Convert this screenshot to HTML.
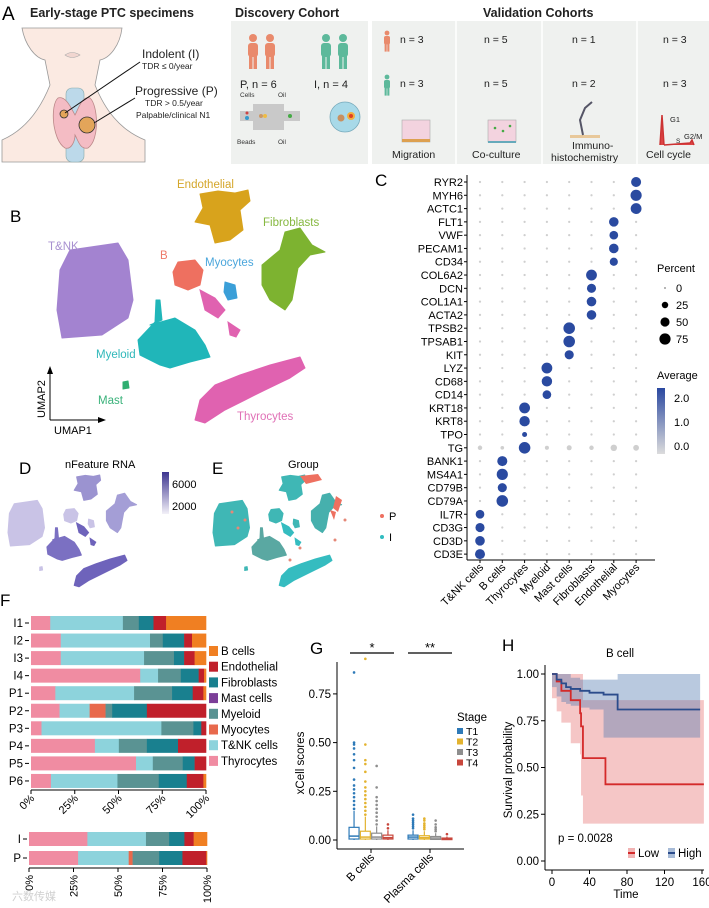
<!DOCTYPE html>
<html><head><meta charset="utf-8"><style>
html,body{margin:0;padding:0;background:#fff;}
svg{display:block;font-family:"Liberation Sans",sans-serif;}
</style></head><body>
<svg id="fig" width="709" height="908" viewBox="0 0 709 908" xmlns="http://www.w3.org/2000/svg">
<!-- PANEL A -->
<g>
<text x="2" y="20" font-size="19">A</text>
<text x="30" y="17" font-size="12.5" font-weight="bold" fill="#222">Early-stage PTC specimens</text>
<path d="M22,28 C25,45 35,58 45,60 L50,85 C40,110 25,130 2,140 L2,162 L145,162 L145,140 C120,130 105,110 95,85 L100,60 C110,58 120,45 122,28 Z" fill="#fbeae2" stroke="#999" stroke-width="0.8"/>
<path d="M65,55 Q72,50 80,55 Q72,60 65,55 Z" fill="#f1d6d0" stroke="#aaa" stroke-width="0.6"/>
<rect x="66" y="88" width="18" height="74" rx="6" fill="#bcd9ea" stroke="#8aa" stroke-width="0.6"/>
<path d="M58,98 C50,105 52,140 65,148 C72,150 75,140 75,135 C78,140 80,150 88,148 C100,140 98,105 90,98 C82,95 78,110 75,115 C72,110 66,95 58,98 Z" fill="#f4bcc4" stroke="#b88" stroke-width="0.8"/>
<circle cx="64" cy="114" r="4" fill="#e3a55a" stroke="#333" stroke-width="0.8"/>
<circle cx="87" cy="125" r="8" fill="#e3a55a" stroke="#333" stroke-width="0.8"/>
<line x1="65" y1="113" x2="140" y2="62" stroke="#111" stroke-width="1"/>
<line x1="94" y1="123" x2="135" y2="98" stroke="#111" stroke-width="1"/>
<text x="142" y="58" font-size="12" fill="#222">Indolent (I)</text>
<text x="142" y="69" font-size="8.5" fill="#222">TDR ≤ 0/year</text>
<text x="135" y="95" font-size="12" fill="#222">Progressive (P)</text>
<text x="145" y="106" font-size="8.5" fill="#222">TDR &gt; 0.5/year</text>
<text x="136" y="118" font-size="8.5" fill="#222">Palpable/clinical N1</text>
<text x="235" y="17" font-size="12.5" font-weight="bold" fill="#222">Discovery Cohort</text>
<rect x="231" y="21" width="137" height="143" fill="#eff1ef"/>
<text x="483" y="17" font-size="12.5" font-weight="bold" fill="#222">Validation Cohorts</text>
<rect x="372" y="21" width="337" height="143" fill="#eff1ef"/>
<line x1="456" y1="21" x2="456" y2="164" stroke="#fff" stroke-width="1.5"/>
<line x1="542" y1="21" x2="542" y2="164" stroke="#fff" stroke-width="1.5"/>
<line x1="637" y1="21" x2="637" y2="164" stroke="#fff" stroke-width="1.5"/>
<g id="people"></g>
<text x="240" y="88" font-size="11" fill="#222">P, n = 6</text>
<text x="314" y="88" font-size="11" fill="#222">I, n = 4</text>
<path d="M240,111 H253 V104 H284 V111 H300 V121 H284 V130 H253 V121 H240 Z" fill="#c9c9c9"/>
<circle cx="345" cy="117" r="15" fill="#a8d9e8" stroke="#7ab" stroke-width="0.8"/>
<circle cx="341" cy="118" r="3.5" fill="#c89060"/><circle cx="351" cy="116" r="4" fill="#f0b040"/><circle cx="351" cy="116" r="2" fill="#e04020"/>
<text x="240" y="97" font-size="6.5" fill="#333">Cells</text><text x="278" y="97" font-size="6.5" fill="#333">Oil</text>
<text x="237" y="144" font-size="6.5" fill="#333">Beads</text><text x="278" y="144" font-size="6.5" fill="#333">Oil</text>
<circle cx="247" cy="113" r="1.5" fill="#c44"/><circle cx="247" cy="118" r="2" fill="#39c"/><circle cx="261" cy="116" r="2" fill="#c96"/><circle cx="265" cy="116" r="2" fill="#eb4"/><circle cx="290" cy="116" r="2" fill="#4a4"/>
<g id="valtext" font-size="10.5" fill="#222"></g>
<rect x="402" y="120" width="28" height="22" fill="#f3d3df" stroke="#aaa" stroke-width="0.6"/>
<rect x="402" y="139" width="28" height="3" fill="#dda050"/>
<rect x="488" y="120" width="28" height="22" fill="#f3d3df" stroke="#aaa" stroke-width="0.6"/>
<rect x="488" y="141" width="28" height="2" fill="#6ab"/>
<circle cx="495" cy="128" r="1.3" fill="#4a4"/><circle cx="503" cy="131" r="1.3" fill="#4a4"/><circle cx="510" cy="126" r="1.3" fill="#4a4"/>
<rect x="570" y="135" width="30" height="3" fill="#e8c89a"/>
<path d="M583,135 L580,120 L585,108 L592,102" stroke="#556" stroke-width="2" fill="none"/>
<path d="M660,145 L662,115 L664,145 M664,145 L690,143 L692,140 L694,145" stroke="#c33" stroke-width="1.5" fill="#d44"/>
<text x="670" y="122" font-size="7.5" fill="#222">G1</text><text x="676" y="143" font-size="6.5" fill="#222">S</text><text x="684" y="139" font-size="7.5" fill="#222">G2/M</text>
<text x="392" y="158" font-size="10.5" fill="#222">Migration</text>
<text x="472" y="158" font-size="10.5" fill="#222">Co-culture</text>
<text x="572" y="149" font-size="10.5" fill="#222">Immuno-</text>
<text x="551" y="161" font-size="10.5" fill="#222">histochemistry</text>
<text x="646" y="158" font-size="10.5" fill="#222">Cell cycle</text>
</g>
<!-- PANEL B/D/E -->
<text x="10" y="222" font-size="17">B</text>
<g id="umapB"></g>
<g>
<path d="M50,420 V372 M50,420 H100" stroke="#000" stroke-width="1"/>
<path d="M47,374 L50,366 L53,374 Z M98,417 L106,420 L98,423 Z" fill="#000"/>
<text x="54" y="434" font-size="11">UMAP1</text>
<text x="0" y="0" font-size="11" transform="translate(45,418) rotate(-90)">UMAP2</text>
</g>
<text x="19" y="474" font-size="17">D</text>
<text x="65" y="468" font-size="11">nFeature RNA</text>
<g id="umapD"></g>
<defs><linearGradient id="gD" x1="0" y1="1" x2="0" y2="0"><stop offset="0" stop-color="#f2f0f8"/><stop offset="1" stop-color="#3d3590"/></linearGradient>
<linearGradient id="gC" x1="0" y1="1" x2="0" y2="0"><stop offset="0" stop-color="#dcdcdc"/><stop offset="1" stop-color="#2a48a0"/></linearGradient></defs>
<rect x="162" y="472" width="7" height="42" fill="url(#gD)"/>
<text x="172" y="488" font-size="11">6000</text><text x="172" y="510" font-size="11">2000</text>
<text x="212" y="474" font-size="17">E</text>
<text x="288" y="468" font-size="11">Group</text>
<g id="umapE"></g>
<g>
<circle cx="382" cy="516" r="2" fill="#ee7060"/><text x="389" y="520" font-size="11">P</text>
<circle cx="382" cy="537" r="2" fill="#30bcc0"/><text x="389" y="541" font-size="11">I</text>
</g>
<!-- PANEL C -->
<text x="375" y="186" font-size="17">C</text>
<g id="dotplot"></g>
<!-- PANEL F -->
<text x="0" y="606" font-size="17">F</text>
<g id="barF"></g>
<!-- PANEL G -->
<text x="310" y="654" font-size="17">G</text>
<g id="boxG"></g>
<!-- PANEL H -->
<text x="502" y="651" font-size="17">H</text>
<g id="kmH"></g>
<text x="12" y="900" font-size="11" fill="#d0d0d0">六数传媒</text>
</svg>
<script>
const NS="http://www.w3.org/2000/svg";
function mk(parent,tag,attrs,text){const e=document.createElementNS(NS,tag);for(const k in attrs)e.setAttribute(k,attrs[k]);if(text!==undefined)e.textContent=text;parent.appendChild(e);return e;}

// ---- Panel A people / validation text
const people=document.getElementById('people');
function person(x,y,c,s){
 const g=mk(people,'g',{fill:c});
 
 
 mk(g,'circle',{cx:x,cy:y,r:4*s});
 mk(g,'rect',{x:x-5*s,y:y+5*s,width:10*s,height:14*s,rx:3*s});
 mk(g,'rect',{x:x-4*s,y:y+17*s,width:3.5*s,height:14*s});
 mk(g,'rect',{x:x+0.5*s,y:y+17*s,width:3.5*s,height:14*s});
}
person(253,38,'#e98a6c',1);person(270,38,'#e98a6c',1);person(326,38,'#5db99b',1);person(343,38,'#5db99b',1);
person(387,33,'#e98a6c',0.6);person(387,77,'#5db99b',0.6);
const valRow1=['n = 3','n = 5','n = 1','n = 3'],valRow2=['n = 3','n = 5','n = 2','n = 3'];
const valX=[400,484,572,663];
const vt=document.getElementById('valtext');
valRow1.forEach((t,i)=>mk(vt,'text',{x:valX[i],y:43},t));
valRow2.forEach((t,i)=>mk(vt,'text',{x:valX[i],y:87},t));

// ---- UMAP blobs
const clusters=['T&NK','Endothelial','Fibroblasts','B','Myocytes','Myeloid','Mast','Thyrocytes'];
const clusterColors=['#a383d0','#d8a31c','#7db330','#ee7060','#3b9fd8','#20b6b9','#2fae70','#e062b0'];
const labelColors=['#a890d0','#d4a62a','#86b840','#ee7a6a','#4aa6dc','#30b8ba','#3ab27a','#e070b6'];
const blobs=[
 [[70,250],[118,243],[128,260],[133,300],[128,318],[102,335],[62,338],[57,310],[60,270]],
 [[200,194],[218,191],[235,193],[248,190],[250,201],[240,210],[243,230],[230,240],[215,243],[210,225],[195,222],[203,208]],
 [[285,232],[300,228],[312,245],[325,252],[310,255],[298,268],[292,300],[285,310],[270,300],[262,285],[262,265],[280,250]],
 [[178,262],[195,260],[203,270],[200,285],[188,290],[175,285],[173,272]],
 [[225,282],[235,285],[237,298],[228,300],[224,292]],
 [[150,325],[175,318],[195,330],[205,345],[210,357],[190,362],[170,368],[160,365],[140,355],[138,340],[155,322],[156,300],[160,300],[162,320]],
 [[123,382],[128,381],[129,388],[123,389]],
 [[195,420],[200,400],[215,385],[240,375],[270,365],[300,357],[305,368],[290,378],[265,390],[245,400],[225,410],[205,423]]
];
const extraPink=[[[200,290],[215,298],[225,310],[218,318],[205,310]],[[228,322],[240,330],[236,337],[230,335]]];
const labelPos=[[48,250,'T&NK'],[177,188,'Endothelial'],[263,226,'Fibroblasts'],[160,259,'B'],[205,266,'Myocytes'],[96,358,'Myeloid'],[98,404,'Mast'],[237,420,'Thyrocytes']];
function drawUmap(gid,ox,oy,sc,fillFn,labels){
 const g=document.getElementById(gid);
 const T=p=>[(ox+(p[0]-57)*sc).toFixed(1),(oy+(p[1]-188)*sc).toFixed(1)].join(',');
 blobs.forEach((b,i)=>{
  const p=mk(g,'polygon',{points:b.map(T).join(' '),fill:fillFn(i),'stroke':fillFn(i),'stroke-width':1,'stroke-linejoin':'round'});
  
  
 });
 extraPink.forEach(b=>mk(g,'polygon',{points:b.map(T).join(' '),fill:fillFn(7),stroke:fillFn(7),'stroke-width':1}));
 if(labels){labelPos.forEach((l,i)=>{const t=mk(g,'text',{x:l[0],y:l[1],'font-size':11.5,fill:labelColors[i]},l[2]);
  });}
}
const dShade=['#c9c3e6','#9b93d0','#a49ed6','#c9c3e6','#c9c3e6','#7b70c2','#c9c3e6','#6e63bb'];
drawUmap('umapB',57,188,1,i=>clusterColors[i],true);
drawUmap('umapD',8,474,0.48,i=>dShade[i],false);
const eShade=['#3fb7b5','#3fb7b5','#46b0ad','#3fb7b5','#3fb7b5','#5aa8a2','#3fb7b5','#35bcc0'];
drawUmap('umapE',213,474,0.48,i=>eShade[i],false);
(function(){const g=document.getElementById('umapE');
 mk(g,'polygon',{points:'300,476 318,474 322,480 306,484',fill:'#ee7060'});
 mk(g,'polygon',{points:'336,496 342,500 338,512 333,508',fill:'#ee7060'});
 mk(g,'polygon',{points:'330,510 336,512 334,520',fill:'#ee7060'});
 const pts=[[232,512],[245,520],[238,528],[300,548],[290,560],[345,520],[335,540]];
 pts.forEach(p=>mk(g,'circle',{cx:p[0],cy:p[1],r:1.5,fill:'#e58878'}));})();

// ---- Panel C dot plot
const genes=['RYR2','MYH6','ACTC1','FLT1','VWF','PECAM1','CD34','COL6A2','DCN','COL1A1','ACTA2','TPSB2','TPSAB1','KIT','LYZ','CD68','CD14','KRT18','KRT8','TPO','TG','BANK1','MS4A1','CD79B','CD79A','IL7R','CD3G','CD3D','CD3E'];
const cellTypes=['T&NK cells','B cells','Thyrocytes','Myeloid','Mast cells','Fibroblasts','Endothelial','Myocytes'];
const markerCol=[7,7,7,6,6,6,6,5,5,5,5,4,4,4,3,3,3,2,2,2,2,1,1,1,1,0,0,0,0];
const markerPct=[60,75,70,55,45,55,40,70,50,55,55,80,80,50,70,65,45,70,65,15,80,60,75,50,80,45,50,55,60];
const tgBackground=[12,8,0,10,15,12,25,20];
(function(){
 const g=document.getElementById('dotplot');
 const x0=480,dx=22.3,y0=182,dy=13.29;
 const xs=c=>x0+c*dx, ys=r=>y0+r*dy, rad=p=>Math.sqrt(p/75)*5.6;
 mk(g,'line',{x1:467,y1:175,x2:467,y2:560,stroke:'#000','stroke-width':1});
 mk(g,'line',{x1:467,y1:560,x2:655,y2:560,stroke:'#000','stroke-width':1});
 genes.forEach((gn,r)=>{
  const t=mk(g,'text',{x:463,y:ys(r)+4,'font-size':11,'text-anchor':'end'},gn);
  
  mk(g,'line',{x1:464,y1:ys(r),x2:467,y2:ys(r),stroke:'#000'});
  cellTypes.forEach((ct,c)=>{
   let p=3,col='#cfcfcf';
   if(markerCol[r]===c){p=markerPct[r];col='#2a4aa0';}
   else if(gn==='TG'){p=tgBackground[c];}
   const d=mk(g,'circle',{cx:xs(c),cy:ys(r),r:rad(p).toFixed(2),fill:col});
   
  });
 });
 cellTypes.forEach((ct,c)=>{
  mk(g,'line',{x1:xs(c),y1:560,x2:xs(c),y2:563,stroke:'#000'});
  const t=mk(g,'text',{x:0,y:0,'font-size':11,'text-anchor':'end',transform:`translate(${xs(c)+4},${568}) rotate(-45)`},ct);
  
 });
 mk(g,'text',{x:657,y:272,'font-size':11},'Percent');
 const legP=[0,25,50,75];
 legP.forEach((p,i)=>{mk(g,'circle',{cx:665,cy:288+i*17,r:Math.max(0.6,rad(p)),fill:'#000'});mk(g,'text',{x:676,y:292+i*17,'font-size':11},String(p));});
 mk(g,'text',{x:657,y:379,'font-size':11},'Average');
 mk(g,'rect',{x:657,y:388,width:8,height:66,fill:'url(#gC)'});
 [['2.0',398],['1.0',422],['0.0',446]].forEach(a=>mk(g,'text',{x:674,y:a[1]+4,'font-size':11},a[0]));
})();

// ---- Panel F stacked bars
const sampleNames=['I1','I2','I3','I4','P1','P2','P3','P4','P5','P6'];
const legendNames=['B cells','Endothelial','Fibroblasts','Mast cells','Myeloid','Myocytes','T&NK cells','Thyrocytes'];
const legendColors=['#f07f22','#c0202b','#19808f','#7c3f98','#5a9393','#e8694c','#8dd3dc','#f08ca2'];
const thyro=[11,17,17,62.4,13.9,16.3,6,36.5,60,11.4];
const tnk=[41.5,51,47.6,10.2,45,17.2,68.5,13.7,9.6,38];
const myocyte=[0,0,0,0,0,9.1,0,0,0,0];
const myeloid=[9.1,7.3,17.1,13,21.7,3.8,18.3,16,17.1,23.6];
const mast=[0,0,0,0,0,0,0,0,0,0];
const fibro=[8.4,12.2,5.8,10.2,11.8,19.8,4.5,17.8,6.8,16];
const endo=[7.2,4.5,6,3.1,6.1,33.8,2.7,16,6.5,9.5];
const bcell=[22.8,8,6.5,1.1,1.5,0,0,0,0,1.5];
const groupNames=['I','P'];
const gThyro=[32.8,27.6],gTnk=[32.9,28.4],gMyo=[0,2.2],gMyel=[13,14.9],gMast=[0,0],gFib=[8.6,13.1],gEndo=[5.2,13.4],gB=[7.5,0.4];
(function(){
 const g=document.getElementById('barF');
 const stackCols=['#f08ca2','#8dd3dc','#e8694c','#5a9393','#7c3f98','#19808f','#c0202b','#f07f22'];
 function drawBars(names,series,x0,w,y0,dy,bh,axisY){
  names.forEach((n,i)=>{
   const cy=y0+i*dy;
   mk(g,'text',{x:x0-8,y:cy+4,'font-size':11.5,'text-anchor':'end'},n);
   mk(g,'line',{x1:x0-6,y1:cy,x2:x0-2,y2:cy,stroke:'#000'});
   let acc=0;
   series.forEach((s,k)=>{
    const v=s[i]; if(v<=0)return;
    const r=mk(g,'rect',{x:(x0+acc/100*w).toFixed(2),y:cy-bh/2,width:(v/100*w+0.3).toFixed(2),height:bh,fill:stackCols[k]});
    
    acc+=v;
   });
  });
  mk(g,'line',{x1:x0,y1:axisY,x2:x0+w,y2:axisY,stroke:'#000'});
 }
 drawBars(sampleNames,[thyro,tnk,myocyte,myeloid,mast,fibro,endo,bcell],31,175,623,17.55,14,790);
 drawBars(groupNames,[gThyro,gTnk,gMyo,gMyel,gMast,gFib,gEndo,gB],29,178,839,19,14,868);
 const ticks=['0%','25%','50%','75%','100%'];
 ticks.forEach((t,i)=>{
  const x=31+i*175/4;
  mk(g,'line',{x1:x,y1:790,x2:x,y2:794,stroke:'#000'});
  mk(g,'text',{x:0,y:0,'font-size':11,'text-anchor':'end',transform:`translate(${x+4},${799}) rotate(-45)`},t);
  const x2=29+i*178/4;
  mk(g,'line',{x1:x2,y1:868,x2:x2,y2:872,stroke:'#000'});
  mk(g,'text',{x:0,y:0,'font-size':11,'text-anchor':'end',transform:`translate(${x2+4},${875}) rotate(-90)`},t);
 });
 legendNames.forEach((n,i)=>{
  const y=651+i*15.7;
  const r=mk(g,'rect',{x:209,y:y-5,width:9,height:10,fill:legendColors[i]});
  
  mk(g,'text',{x:221,y:y+4,'font-size':11.5},n);
 });
})();

// ---- Panel G box plot
const gCats=['B cells','Plasma cells'];
const stages=['T1','T2','T3','T4'];
const q1=[[0.005,0.005,0.005,0.005],[0.005,0.005,0.003,0.002]];
const med=[[0.02,0.015,0.015,0.012],[0.015,0.012,0.01,0.006]];
const q3=[[0.065,0.045,0.035,0.025],[0.025,0.022,0.018,0.01]];
const whiskHi=[[0.15,0.12,0.07,0.05],[0.05,0.045,0.035,0.018]];
const outliers=[
 [[0.16,0.18,0.2,0.22,0.24,0.26,0.28,0.31,0.37,0.41,0.44,0.47,0.49,0.5,0.86],[0.13,0.15,0.17,0.19,0.21,0.23,0.25,0.27,0.3,0.35,0.39,0.41,0.49,0.93],[0.08,0.1,0.12,0.14,0.16,0.18,0.2,0.22,0.27,0.38],[0.06,0.08]],
 [[0.06,0.07,0.08,0.09,0.1,0.11,0.13],[0.055,0.065,0.075,0.085,0.1,0.11],[0.045,0.055,0.065,0.08,0.1],[0.03]]];
const yTicksG=[0,0.25,0.5,0.75];
(function(){
 const g=document.getElementById('boxG');
 const cols=['#2e7ab8','#e3b32f','#8e8e8e','#c8463c'];
 const Y=v=>840-v/0.25*48.7;
 const catX=[371,430];
 const X=(c,s)=>catX[c]+(s-1.5)*11.3;
 mk(g,'line',{x1:337,y1:662,x2:337,y2:849,stroke:'#000'});
 mk(g,'line',{x1:337,y1:849,x2:464,y2:849,stroke:'#000'});
 yTicksG.forEach(t=>{mk(g,'line',{x1:333,y1:Y(t),x2:337,y2:Y(t),stroke:'#000'});mk(g,'text',{x:331,y:Y(t)+4,'font-size':11.5,'text-anchor':'end'},t.toFixed(2));});
 mk(g,'text',{x:0,y:0,'font-size':11.5,'text-anchor':'middle',transform:'translate(304,763) rotate(-90)'},'xCell scores');
 gCats.forEach((cn,c)=>{
  mk(g,'line',{x1:catX[c],y1:849,x2:catX[c],y2:853,stroke:'#000'});
  mk(g,'text',{x:0,y:0,'font-size':11.5,'text-anchor':'end',transform:`translate(${catX[c]+4},${858}) rotate(-45)`},cn);
  stages.forEach((s,k)=>{
   const x=X(c,k),col=cols[k];
   const bx=mk(g,'g',{});
   
   
   outliers[c][k].forEach(v=>mk(bx,'circle',{cx:x,cy:Y(v),r:1.3,fill:col}));
   mk(bx,'line',{x1:x,y1:Y(q3[c][k]),x2:x,y2:Y(whiskHi[c][k]),stroke:col,'stroke-width':1.2});
   mk(bx,'line',{x1:x,y1:Y(q1[c][k]),x2:x,y2:Y(0),stroke:col,'stroke-width':1.2});
   mk(bx,'rect',{x:x-5,y:Y(q3[c][k]),width:10,height:Math.max(1,Y(q1[c][k])-Y(q3[c][k])),fill:'#fff',stroke:col,'stroke-width':1.2});
   mk(bx,'line',{x1:x-5,y1:Y(med[c][k]),x2:x+5,y2:Y(med[c][k]),stroke:col,'stroke-width':1.5});
  });
 });
 mk(g,'line',{x1:350,y1:653,x2:394,y2:653,stroke:'#000','stroke-width':1.2});
 mk(g,'text',{x:372,y:652,'font-size':13,'text-anchor':'middle'},'*');
 mk(g,'line',{x1:408,y1:653,x2:452,y2:653,stroke:'#000','stroke-width':1.2});
 mk(g,'text',{x:430,y:652,'font-size':13,'text-anchor':'middle'},'**');
 mk(g,'text',{x:457,y:721,'font-size':11.5},'Stage');
 stages.forEach((s,k)=>{const y=731+k*10.5;
  mk(g,'rect',{x:457,y:y-3,width:6,height:6,fill:cols[k]});
  mk(g,'text',{x:466,y:y+4,'font-size':10.5},s);});
})();

// ---- Panel H Kaplan-Meier
const lowTime=[0,5,10,20,30,31,33,57,162];
const lowSurv=[1,0.96,0.91,0.86,0.79,0.72,0.55,0.41,0.41];
const lowUpper=[1,1,1,1,1,1,0.86,0.86,0.86];
const lowLower=[1,0.87,0.8,0.74,0.63,0.57,0.35,0.2,0.2];
const highTime=[0,5,10,15,20,30,40,55,70,158];
const highSurv=[1,0.97,0.95,0.93,0.92,0.91,0.9,0.89,0.81,0.81];
const highUpper=[1,1,1,1,0.98,0.97,0.97,0.97,1,1];
const highLower=[1,0.93,0.88,0.85,0.84,0.83,0.82,0.81,0.66,0.66];
const xTicksH=[0,40,80,120,160];
const yTicksH=[0,0.25,0.5,0.75,1];
(function(){
 const g=document.getElementById('kmH');
 const X=t=>552+t*0.9375, Y=s=>861-s*187;
 function stepPath(T,S){let d=`M${X(T[0])},${Y(S[0])}`;for(let i=1;i<T.length;i++){d+=` H${X(T[i])} V${Y(S[i])}`;}return d;}
 function band(T,U,L){let d=`M${X(T[0])},${Y(U[0])}`;for(let i=1;i<T.length;i++)d+=` H${X(T[i])} V${Y(U[i])}`;
  for(let i=T.length-1;i>0;i--)d+=` V${Y(L[i])} H${X(T[i-1])}`;d+=` V${Y(L[0])} Z`;return d;}
 const b1=mk(g,'path',{d:band(lowTime,lowUpper,lowLower),fill:'#e88080','fill-opacity':0.45});
 
 const b2=mk(g,'path',{d:band(highTime,highUpper,highLower),fill:'#5078b0','fill-opacity':0.4});
 
 const l1=mk(g,'path',{d:stepPath(lowTime,lowSurv),fill:'none',stroke:'#d42a2a','stroke-width':1.8});
 
 const l2=mk(g,'path',{d:stepPath(highTime,highSurv),fill:'none',stroke:'#2b4c8c','stroke-width':1.8});
 
 mk(g,'line',{x1:545,y1:665,x2:545,y2:870,stroke:'#000'});
 mk(g,'line',{x1:545,y1:870,x2:704,y2:870,stroke:'#000'});
 yTicksH.forEach(t=>{mk(g,'line',{x1:541,y1:Y(t),x2:545,y2:Y(t),stroke:'#000'});mk(g,'text',{x:539,y:Y(t)+4,'font-size':11.5,'text-anchor':'end'},t.toFixed(2));});
 xTicksH.forEach(t=>{mk(g,'line',{x1:X(t),y1:870,x2:X(t),y2:874,stroke:'#000'});mk(g,'text',{x:X(t),y:886,'font-size':11.5,'text-anchor':'middle'},String(t));});
 mk(g,'text',{x:626,y:898,'font-size':11.5,'text-anchor':'middle'},'Time');
 mk(g,'text',{x:0,y:0,'font-size':11.5,'text-anchor':'middle',transform:'translate(512,770) rotate(-90)'},'Survival probability');
 mk(g,'text',{x:620,y:657,'font-size':11.5,'text-anchor':'middle'},'B cell');
 mk(g,'text',{x:558,y:842,'font-size':11.5},'p = 0.0028');
 mk(g,'rect',{x:628,y:848,width:7,height:10,fill:'#e88080','fill-opacity':0.6});
 mk(g,'line',{x1:628,y1:853,x2:635,y2:853,stroke:'#d42a2a','stroke-width':2});
 mk(g,'text',{x:638,y:857,'font-size':11.5},'Low');
 mk(g,'rect',{x:668,y:848,width:7,height:10,fill:'#5078b0','fill-opacity':0.5});
 mk(g,'line',{x1:668,y1:853,x2:675,y2:853,stroke:'#2b4c8c','stroke-width':2});
 mk(g,'text',{x:678,y:857,'font-size':11.5},'High');
})();
</script>
</body></html>
